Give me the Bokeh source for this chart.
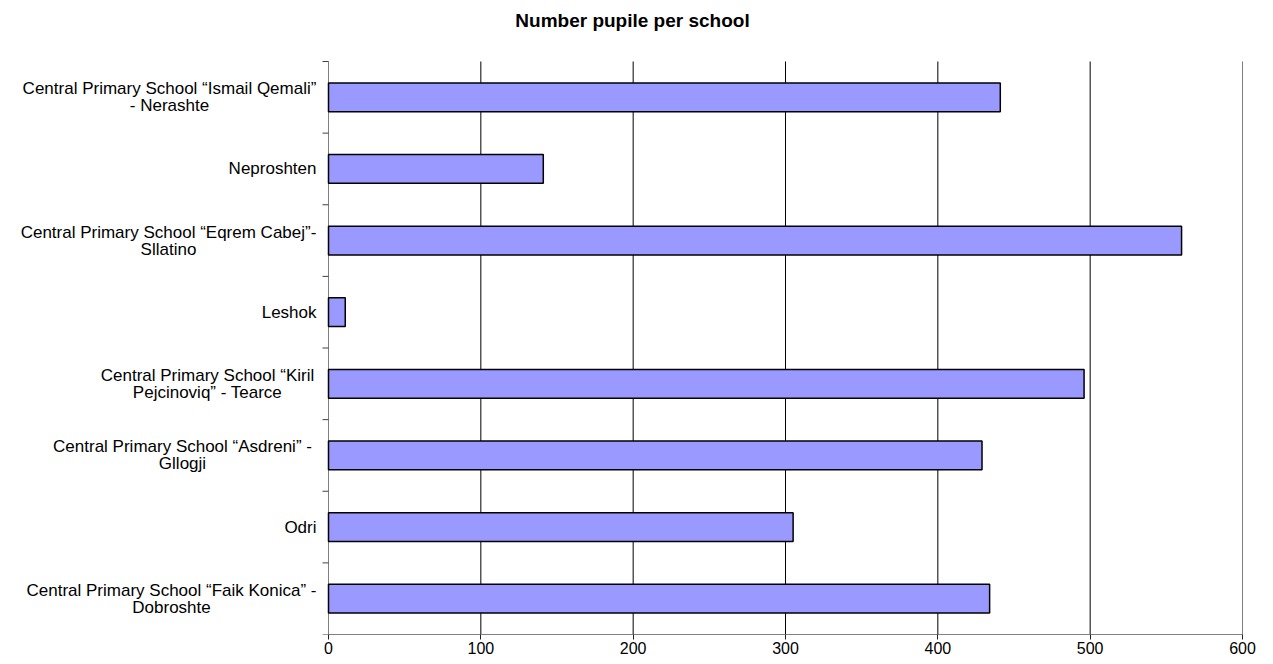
from bokeh.plotting import figure
from bokeh.models import Range1d, FixedTicker, ColumnDataSource
from bokeh.core.properties import value
from bokeh.embed import file_html
from bokeh.resources import INLINE

# ---- data ----
schools = [
    "Central Primary School \u201cIsmail Qemali\u201d\n- Nerashte",
    "Neproshten",
    "Central Primary School \u201cEqrem Cabej\u201d-\nSllatino",
    "Leshok",
    "Central Primary School \u201cKiril\nPejcinoviq\u201d - Tearce",
    "Central Primary School \u201cAsdreni\u201d -\nGllogji",
    "Odri",
    "Central Primary School \u201cFaik Konica\u201d -\nDobroshte",
]
pupils = [441, 141, 560, 11, 496, 429, 305, 434]
x_ticks = [0, 100, 200, 300, 400, 500, 600]
title_text = "Number pupile per school"

# ---- label styling (screen offsets / alignment of category labels) ----
label_align = ["center", "right", "center", "right", "center", "center", "right", "center"]
label_dx = [-159, -12, -160, -12, -121, -146, -12, -157]

FONT = "Liberation Sans"
W, H = 1265, 660
AXIS_PX = 328        # screen x of value 0
FRAME_RIGHT = 1242   # screen x of value 600
TOP_PX = 61          # screen y of top of category area
BOTTOM_PX = 634      # screen y of x axis
TITLE_X, TITLE_Y = 632, 20

n = len(schools)
px_per_unit = (FRAME_RIGHT - AXIS_PX) / (x_ticks[-1] - x_ticks[0])
px_per_cat = (BOTTOM_PX - TOP_PX) / n
x_start = x_ticks[0] - AXIS_PX / px_per_unit
y_end = -TOP_PX / px_per_cat

pos = [i + 0.5 for i in range(n)]
src = ColumnDataSource(dict(school=schools, pupils=pupils, pos=pos,
                            align=label_align, dx=label_dx))

p = figure(width=W, height=H,
           x_range=Range1d(x_start, x_ticks[-1]), y_range=Range1d(n, y_end),
           output_backend="svg", toolbar_location=None,
           min_border_left=0, min_border_right=W - FRAME_RIGHT,
           min_border_top=0, min_border_bottom=H - BOTTOM_PX)
p.outline_line_color = None
p.background_fill_color = "white"
p.border_fill_color = "white"
p.xgrid.visible = False
p.ygrid.visible = False

# x axis
xa = p.xaxis[0]
xa.ticker = FixedTicker(ticks=x_ticks)
xa.bounds = (x_ticks[0], x_ticks[-1])
xa.axis_line_color = "#808080"
xa.axis_line_width = 1
xa.major_tick_line_color = "#202020"
xa.major_tick_out = 5
xa.major_tick_in = 0
xa.minor_tick_line_color = None
xa.major_label_text_font = FONT
xa.major_label_text_font_size = "16px"
xa.major_label_text_color = "black"
xa.major_label_standoff = 2

# vertical grid lines over the category area
gx = x_ticks[1:]
p.segment(x0=gx, x1=gx, y0=[0] * len(gx), y1=[n] * len(gx),
          line_color="black", line_width=1)

# y axis at value 0 with ticks at category boundaries
p.yaxis.visible = False
p.segment(x0=[x_ticks[0]], x1=[x_ticks[0]], y0=[0], y1=[n],
          line_color="#808080", line_width=1)
bounds = list(range(n + 1))
tick_len = 6 / px_per_unit
p.segment(x0=[x_ticks[0]] * len(bounds), x1=[x_ticks[0] - tick_len] * len(bounds),
          y0=bounds, y1=bounds, line_color="#404040", line_width=1)

# bars
p.hbar(y="pos", left=0, right="pupils", height=0.4, source=src,
       fill_color="#9999FF", line_color="black", line_width=1.5)

# category labels
p.text(x=x_ticks[0], y="pos", text="school", source=src,
       x_offset="dx", text_align="align", text_baseline="middle",
       text_font=value(FONT), text_font_size="17px",
       text_color="black", text_line_height=0.9)

# title
p.text(x=[(TITLE_X - AXIS_PX) / px_per_unit], y=[-(TOP_PX - TITLE_Y) / px_per_cat],
       text=[title_text], text_align="center", text_baseline="middle",
       text_font=value(FONT), text_font_size="19px", text_font_style="bold",
       text_color="black")

open("out.html", "w").write(file_html(p, INLINE))
